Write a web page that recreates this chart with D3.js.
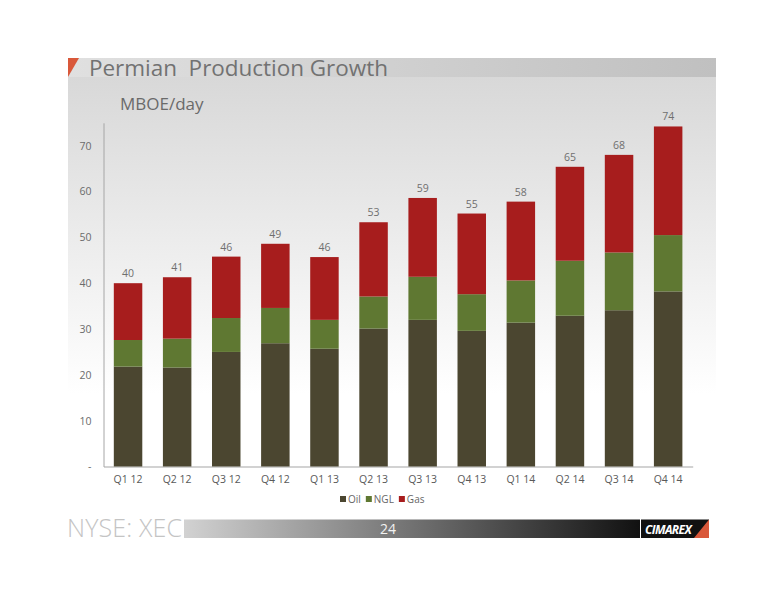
<!DOCTYPE html>
<html>
<head>
<meta charset="utf-8">
<script src="https://cdn.jsdelivr.net/npm/d3@7"></script>
<style>
  body { margin: 0; background: #fff; }
  text { font-family: "Open Sans", "Noto Sans", sans-serif; }
</style>
</head>
<body>
<div class="slide"></div>
<script>
// Chart data (MBOE/day)
var quarters = ["Q1 12", "Q2 12", "Q3 12", "Q4 12", "Q1 13", "Q2 13", "Q3 13", "Q4 13", "Q1 14", "Q2 14", "Q3 14", "Q4 14"];
var oil = [21.8, 21.6, 25.0, 26.9, 25.7, 30.1, 32.0, 29.6, 31.4, 32.9, 34.1, 38.2];
var ngl = [5.8, 6.3, 7.4, 7.7, 6.3, 7.0, 9.4, 8.0, 9.2, 12.0, 12.6, 12.3];
var gas = [12.4, 13.4, 13.4, 14.0, 13.7, 16.2, 17.2, 17.6, 17.2, 20.5, 21.3, 23.7];
var seriesNames = ["Oil", "NGL", "Gas"];
var seriesColors = ["#4b4630", "#5f7832", "#a71d1d"];
var yTicks = [0, 10, 20, 30, 40, 50, 60, 70];

var svgWidth = 776;
var svgHeight = 600;

var margin = { top: 122.8, right: 83.3, bottom: 133.5, left: 103.5 };
var width = svgWidth - margin.left - margin.right;
var height = svgHeight - margin.top - margin.bottom;

var svg = d3.select(".slide")
    .append("svg")
    .attr("width", svgWidth)
    .attr("height", svgHeight);

var defs = svg.append("defs");

var bgGrad = defs.append("linearGradient").attr("id", "bgGrad")
    .attr("x1", 0).attr("y1", 0).attr("x2", 0).attr("y2", 1);
bgGrad.append("stop").attr("offset", "0%").attr("stop-color", "#d8d8d8");
bgGrad.append("stop").attr("offset", "72%").attr("stop-color", "#ffffff");

var titleGrad = defs.append("linearGradient").attr("id", "titleGrad");
titleGrad.append("stop").attr("offset", "0%").attr("stop-color", "#e0e0e0");
titleGrad.append("stop").attr("offset", "100%").attr("stop-color", "#c0c0c0");

var footGrad = defs.append("linearGradient").attr("id", "footGrad");
footGrad.append("stop").attr("offset", "0%").attr("stop-color", "#d2d2d2");
footGrad.append("stop").attr("offset", "100%").attr("stop-color", "#111111");

// slide background
svg.append("rect").attr("x", 68).attr("y", 77).attr("width", 648).attr("height", 440)
    .attr("fill", "url(#bgGrad)");

// title bar
svg.append("rect").attr("x", 68).attr("y", 58).attr("width", 648).attr("height", 19)
    .attr("fill", "url(#titleGrad)");
svg.append("path").attr("d", "M68,58 L79,58 L68,77 Z").attr("fill", "#d9583a");
svg.append("text").attr("x", 89).attr("y", 76)
    .attr("font-size", 22.5).attr("fill", "#727272")
    .attr("xml:space", "preserve")
    .attr("textLength", 299)
    .text("Permian  Production Growth");

svg.append("text").attr("x", 120).attr("y", 110)
    .attr("font-size", 17).attr("fill", "#6a6a6a")
    .text("MBOE/day");

var chartGroup = svg.append("g")
    .attr("transform", `translate(${margin.left}, ${margin.top})`);

// scales
var xScale = d3.scaleBand()
    .domain(quarters)
    .range([0, width])
    .paddingInner(0.42)
    .paddingOuter(0.21);

var yScale = d3.scaleLinear()
    .domain([0, 75])
    .range([height, 0]);

// stack the series
var table = quarters.map(function(q, i) {
    return { quarter: q, Oil: oil[i], NGL: ngl[i], Gas: gas[i] };
});
var stacked = d3.stack().keys(seriesNames)(table);

// y axis
var leftAxis = d3.axisLeft(yScale)
    .tickValues(yTicks)
    .tickSize(0)
    .tickPadding(12)
    .tickFormat(d => d === 0 ? "-" : d);
var yAxisG = chartGroup.append("g").call(leftAxis);
yAxisG.select(".domain").attr("stroke", "#a6a6a6").attr("stroke-width", 1);
yAxisG.selectAll("text").attr("fill", "#6b6b6b").attr("font-size", 10.5)
    .style("font-family", "'Open Sans', sans-serif");

// x axis
var bottomAxis = d3.axisBottom(xScale).tickSize(0).tickPadding(9);
var xAxisG = chartGroup.append("g")
    .attr("transform", `translate(0, ${height})`)
    .call(bottomAxis);
xAxisG.select(".domain").attr("stroke", "#a6a6a6").attr("stroke-width", 1.2);
xAxisG.selectAll("text").attr("fill", "#595959").attr("font-size", 10.5)
    .style("font-family", "'Open Sans', sans-serif");

// bars
chartGroup.selectAll(".layer")
    .data(stacked)
    .enter()
    .append("g")
    .attr("class", "layer")
    .attr("fill", (d, i) => seriesColors[i])
    .selectAll("rect")
    .data(d => d)
    .enter()
    .append("rect")
    .attr("x", d => xScale(d.data.quarter))
    .attr("y", d => yScale(d[1]))
    .attr("width", xScale.bandwidth())
    .attr("height", d => yScale(d[0]) - yScale(d[1]));

// total labels
chartGroup.selectAll(".total")
    .data(table)
    .enter()
    .append("text")
    .attr("class", "total")
    .attr("x", d => xScale(d.quarter) + xScale.bandwidth() / 2)
    .attr("y", d => yScale(d.Oil + d.NGL + d.Gas) - 6)
    .attr("text-anchor", "middle")
    .attr("font-size", 10.5)
    .attr("fill", "#6f6f6f")
    .text(d => Math.round(d.Oil + d.NGL + d.Gas));

// legend - lay out items one after another
var legend = svg.append("g");
var lx = 340;
seriesNames.forEach(function(name, i) {
    legend.append("rect").attr("x", lx).attr("y", 496).attr("width", 6).attr("height", 6)
        .attr("fill", seriesColors[i]);
    var t = legend.append("text").attr("x", lx + 8).attr("y", 502.5)
        .attr("font-size", 10).attr("fill", "#666")
        .text(name);
    lx += 8 + t.node().getComputedTextLength() + 5;
});

// footer
svg.append("rect").attr("x", 184).attr("y", 519.5).attr("width", 456).attr("height", 18.5)
    .attr("fill", "url(#footGrad)");
svg.append("text").attr("x", 67).attr("y", 537)
    .attr("font-size", 25).attr("fill", "#c4c4c4")
    .attr("font-weight", 300)
    .attr("textLength", 115)
    .text("NYSE: XEC");
svg.append("text").attr("x", 388).attr("y", 534)
    .attr("text-anchor", "middle")
    .attr("font-size", 14).attr("fill", "#f2f2f2")
    .text("24");
svg.append("rect").attr("x", 641).attr("y", 519.5).attr("width", 68).attr("height", 18.5)
    .attr("fill", "#111");
svg.append("path").attr("d", "M709,519.5 L709,538 L694,538 Z").attr("fill", "#d9583a");
svg.append("text").attr("x", 645).attr("y", 533.5)
    .attr("font-size", 12).attr("font-weight", "bold").attr("font-style", "italic")
    .attr("fill", "#fff")
    .attr("letter-spacing", -0.6)
    .text("CIMAREX");
</script>
</body>
</html>
